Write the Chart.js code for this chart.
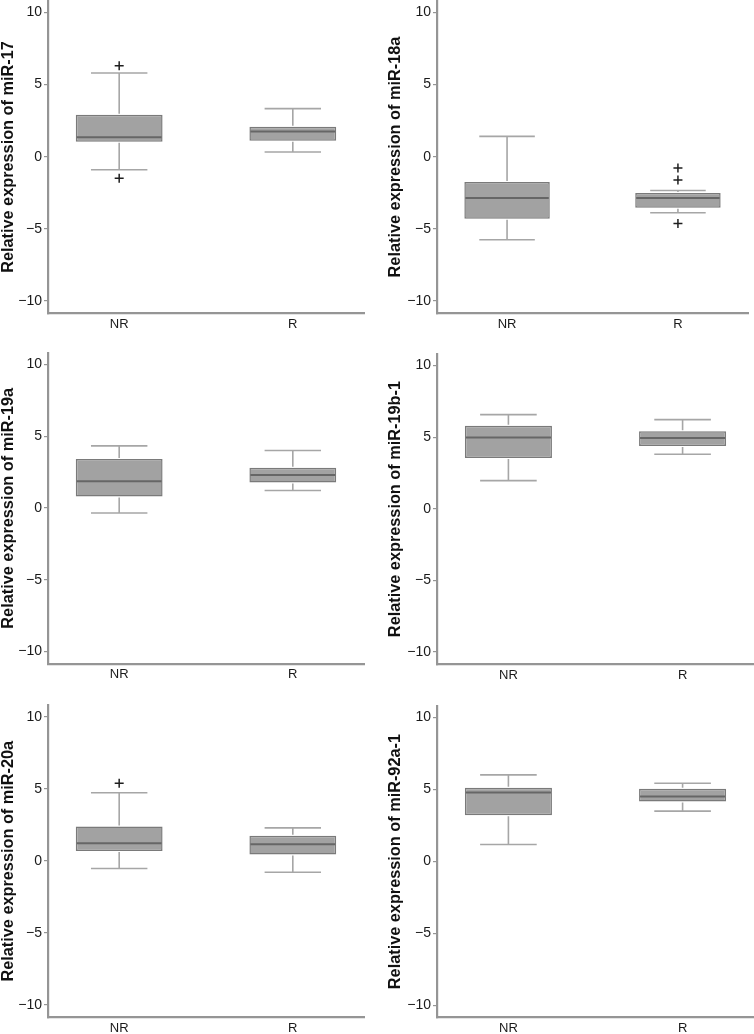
<!DOCTYPE html>
<html><head><meta charset="utf-8">
<script src="https://cdn.jsdelivr.net/npm/chart.js@4.4.0/dist/chart.umd.min.js"></script>
<style>
html,body{margin:0;padding:0;background:#fff;}
body{width:754px;height:1034px;overflow:hidden;position:relative;}
canvas{position:absolute;}
</style></head><body>
<script>
// ---- data ----
const groups = ['NR', 'R'];
const genes = ['miR-17', 'miR-18a', 'miR-19a', 'miR-19b-1', 'miR-20a', 'miR-92a-1'];
const whiskerLow  = [[-0.90, 0.32], [-5.75, -3.88], [-0.35, 1.21], [1.96, 3.80], [-0.53, -0.79], [1.16, 3.48]];
const quartile1   = [[1.04, 1.10], [-4.30, -3.53], [0.79, 1.77], [3.54, 4.38], [0.69, 0.44], [3.20, 4.15]];
const medians     = [[1.34, 1.75], [-2.87, -2.87], [1.86, 2.30], [4.97, 4.94], [1.22, 1.15], [4.78, 4.50]];
const quartile3   = [[2.90, 2.08], [-1.76, -2.52], [3.41, 2.79], [5.80, 5.41], [2.38, 1.74], [5.10, 5.03]];
const whiskerHigh = [[5.80, 3.33], [1.41, -2.34], [4.32, 4.00], [6.57, 6.22], [4.72, 2.29], [6.00, 5.42]];
const outliers    = [[[6.30, -1.50], []], [[], [-0.79, -1.62, -4.62]], [[], []], [[], []], [[5.39], []], [[], []]];
const yTicks = [-10, -5, 0, 5, 10];

// ---- layout / style ----
const FONT = "'Liberation Sans', Arial, Helvetica, sans-serif";
const panels = [
  {x: 0,   areaTop: 0.8,   areaBottom: 313.3},
  {x: 377, areaTop: 0.8,   areaBottom: 313.3},
  {x: 0,   areaTop: 352.8, areaBottom: 663.8},
  {x: 377, areaTop: 354.0, areaBottom: 664.2},
  {x: 0,   areaTop: 705.2, areaBottom: 1017.2},
  {x: 377, areaTop: 705.8, areaBottom: 1017.4}
];
const AXIS_COLOR = '#959595';

const boxPlugin = {
  id: 'boxWhiskers',
  afterDatasetsDraw(chart, args, opts) {
    const p = opts.panel;
    const meta = chart.getDatasetMeta(0);
    const ys = chart.scales.y;
    const ctx = chart.ctx;
    meta.data.forEach((bar, i) => {
      const x = bar.x, w = bar.width;
      const cap = w * 0.65 / 2;
      const yHi = ys.getPixelForValue(whiskerHigh[p][i]);
      const yLo = ys.getPixelForValue(whiskerLow[p][i]);
      const yQ3 = ys.getPixelForValue(quartile3[p][i]);
      const yQ1 = ys.getPixelForValue(quartile1[p][i]);
      const yMd = ys.getPixelForValue(medians[p][i]);
      ctx.save();
      ctx.strokeStyle = '#a6a6a6';
      ctx.lineWidth = 1.6;
      ctx.beginPath();
      ctx.moveTo(x, yQ3 - 1); ctx.lineTo(x, yHi);
      ctx.moveTo(x - cap, yHi); ctx.lineTo(x + cap, yHi);
      ctx.moveTo(x, yQ1 + 1); ctx.lineTo(x, yLo);
      ctx.moveTo(x - cap, yLo); ctx.lineTo(x + cap, yLo);
      ctx.stroke();
      ctx.strokeStyle = '#666666';
      ctx.lineWidth = 2;
      ctx.beginPath();
      ctx.moveTo(x - w / 2 + 1, yMd); ctx.lineTo(x + w / 2 - 1, yMd);
      ctx.stroke();
      ctx.restore();
    });
  }
};

panels.forEach((pl, p) => {
  const leftCol = pl.x === 0;
  const canvasTop = Math.round(pl.areaTop) - 14;
  const padTop = pl.areaTop - canvasTop;
  const canvasH = Math.round(pl.areaBottom - canvasTop + 32);
  const xAxisH = canvasH - (pl.areaBottom - canvasTop);
  const W = 377;
  const cv = document.createElement('canvas');
  cv.width = W; cv.height = canvasH;
  cv.style.left = pl.x + 'px';
  cv.style.top = canvasTop + 'px';
  cv.style.width = W + 'px';
  cv.style.height = canvasH + 'px';
  document.body.appendChild(cv);

  const boxData = groups.map((g, j) => ({x: j + 1, y: [quartile1[p][j], quartile3[p][j]]}));
  const outData = [];
  groups.forEach((g, j) => outliers[p][j].forEach(v => outData.push({x: j + 1, y: v})));

  new Chart(cv, {
    type: 'bar',
    data: {
      datasets: [
        {
          type: 'bar',
          data: boxData,
          backgroundColor: '#a2a2a2',
          borderColor: '#7a7a7a',
          borderWidth: 1.5,
          borderSkipped: false,
          categoryPercentage: 0.5,
          barPercentage: 1.0
        },
        {
          type: 'scatter',
          data: outData,
          pointStyle: 'cross',
          pointRadius: 4.5,
          borderColor: '#1e1e1e',
          borderWidth: 1.5,
          backgroundColor: '#1e1e1e'
        }
      ]
    },
    options: {
      responsive: false,
      animation: false,
      devicePixelRatio: 1,
      events: [],
      layout: {padding: {left: 0, right: leftCol ? 13 : 0, top: padTop, bottom: 0}},
      plugins: {
        legend: {display: false},
        tooltip: {enabled: false},
        boxWhiskers: {panel: p}
      },
      scales: {
        x: {
          type: 'linear',
          offset: false,
          min: 0.59, max: 2.41,
          afterBuildTicks: s => { s.ticks = groups.map((g, j) => ({value: j + 1})); },
          afterFit: s => { s.height = xAxisH; },
          grid: {display: false, drawTicks: false, offset: false},
          border: {display: true, color: AXIS_COLOR, width: 2.2},
          ticks: {
            padding: 3,
            color: '#1a1a1a',
            font: {family: FONT, size: 13},
            callback: v => groups[Math.round(v) - 1]
          }
        },
        y: {
          min: -10.85, max: 10.8,
          afterBuildTicks: s => { s.ticks = yTicks.map(v => ({value: v})); },
          afterFit: s => { s.width = leftCol ? 48 : 60; },
          grid: {display: true, drawOnChartArea: false, drawTicks: true, tickLength: 4, color: AXIS_COLOR, lineWidth: 1.2},
          border: {display: true, color: AXIS_COLOR, width: 2.2},
          ticks: {
            padding: 2,
            color: '#1a1a1a',
            font: {family: FONT, size: 14},
            callback: v => String(v).replace('-', '\u2212')
          },
          title: {
            display: true,
            text: 'Relative expression of ' + genes[p],
            color: '#111',
            font: {family: FONT, size: 16.3, weight: 'bold', lineHeight: 1},
            padding: {top: leftCol ? 0 : 10.4, bottom: 0}
          }
        }
      }
    },
    plugins: [boxPlugin]
  });
});
</script>
</body></html>
